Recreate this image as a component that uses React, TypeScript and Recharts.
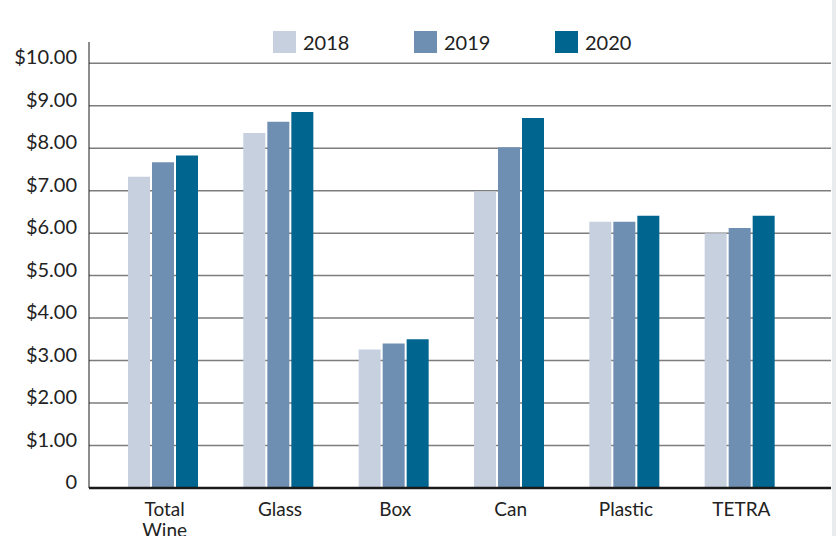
import { BarChart, Bar, XAxis, YAxis, CartesianGrid } from 'recharts';

const categories = ['Total Wine', 'Glass', 'Box', 'Can', 'Plastic', 'TETRA'];
const price2018 = [7.33, 8.36, 3.26, 6.98, 6.27, 6.0];
const price2019 = [7.67, 8.62, 3.4, 8.02, 6.27, 6.12];
const price2020 = [7.83, 8.85, 3.5, 8.71, 6.41, 6.41];
const yTicks = [0, 1, 2, 3, 4, 5, 6, 7, 8, 9, 10];

const series = [
  { key: 'y2018', name: '2018', color: '#c7d0df' },
  { key: 'y2019', name: '2019', color: '#6f8fb2' },
  { key: 'y2020', name: '2020', color: '#00658f' },
];

const chartData = categories.map((cat, i) => ({
  category: cat,
  y2018: price2018[i],
  y2019: price2019[i],
  y2020: price2020[i],
}));

const FONT = 'Lato, "Open Sans", sans-serif';

const fmtPrice = (v: number) => (v === 0 ? '0' : `$${v.toFixed(2)}`);

const YTick = (props: any) => {
  const { x, y, payload } = props;
  return (
    <text x={x} y={y} dy={1} textAnchor="end" fill="#222" fontSize={20} fontFamily={FONT}>
      {fmtPrice(payload.value)}
    </text>
  );
};

const XTick = (props: any) => {
  const { x, y, payload } = props;
  const words = String(payload.value).split(' ');
  return (
    <text x={x + 2} y={y} textAnchor="middle" fill="#222" fontSize={19} fontFamily={FONT}>
      {words.map((w, i) => (
        <tspan key={w} x={x + 2} dy={i === 0 ? 20 : 21}>
          {w}
        </tspan>
      ))}
    </text>
  );
};

// skip the line the grid puts at the very top of the plot (domain max, not a tick)
const GridLine = (props: any) => {
  const { x1, y1, x2, y2 } = props;
  if (y1 < 50) return null;
  return <line x1={x1} y1={y1} x2={x2} y2={y2} stroke="#7d7d7d" strokeWidth={1.5} />;
};

// legend drawn as plain html so it doesn't push the plot down
const LegendBox = () => (
  <div
    style={{
      position: 'absolute',
      top: 30,
      left: 273,
      display: 'flex',
      fontFamily: FONT,
      fontSize: 20,
      color: '#222',
    }}
  >
    {series.map((s) => (
      <div key={s.key} style={{ display: 'flex', alignItems: 'center', width: 141 }}>
        <div style={{ width: 23, height: 22, background: s.color, marginRight: 7 }} />
        <span>{s.name}</span>
      </div>
    ))}
  </div>
);

export default function App() {
  return (
    <div
      style={{
        position: 'fixed',
        top: 0,
        left: 0,
        width: 836,
        height: 536,
        overflow: 'hidden',
        background: '#fff',
      }}
    >
      <div style={{ position: 'absolute', left: 832, top: 0, width: 4, height: 536, background: '#e9ecef' }} />
      <BarChart
        width={832}
        height={560}
        data={chartData}
        margin={{ top: 42, right: 1, bottom: 24, left: 0 }}
        barSize={22}
        barGap={2}
      >
        <CartesianGrid vertical={false} horizontal={<GridLine />} />
        <XAxis
          dataKey="category"
          axisLine={{ stroke: '#1a1a1a', strokeWidth: 2.5 }}
          tickLine={false}
          tick={<XTick />}
          interval={0}
          height={48}
          padding={{ left: 16, right: 34 }}
        />
        <YAxis
          domain={[0, 10.5]}
          ticks={yTicks}
          width={89}
          axisLine={{ stroke: '#1a1a1a', strokeWidth: 1 }}
          tickLine={false}
          tickMargin={6}
          tick={<YTick />}
          allowDataOverflow
        />
        {series.map((s) => (
          <Bar key={s.key} dataKey={s.key} name={s.name} fill={s.color} isAnimationActive={false} />
        ))}
      </BarChart>
      <LegendBox />
    </div>
  );
}
